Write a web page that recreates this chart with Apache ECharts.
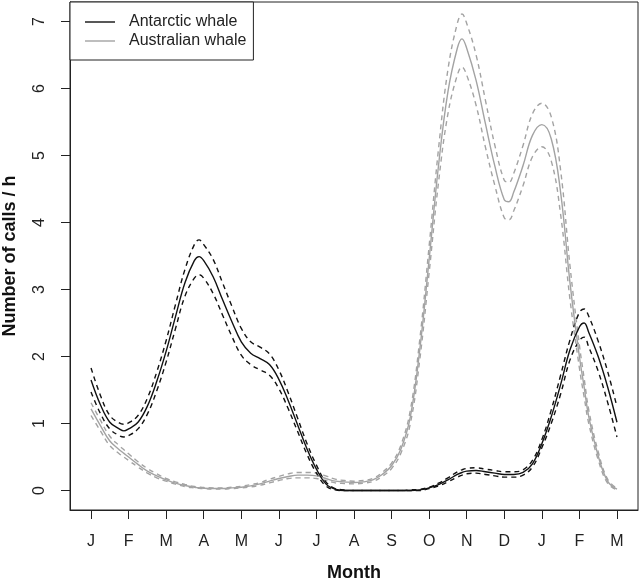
<!DOCTYPE html>
<html>
<head>
<meta charset="utf-8">
<script src="https://cdn.jsdelivr.net/npm/echarts@6/dist/echarts.min.js"></script>
<style>html,body{margin:0;padding:0;background:#fff;}#chart{width:640px;height:580px;}</style>
</head>
<body>
<div id="chart"></div>
<script>
const monthLabels = ['J','F','M','A','M','J','J','A','S','O','N','D','J','F','M'];
const monthTicks = [0,1,2,3,4,5,6,7,8,9,10,11,12,13,14];
const yTicks = [0,1,2,3,4,5,6,7];

const monthPos = [0,0.25,0.5,0.75,0.875,1,1.25,1.5,1.75,2,2.25,2.5,2.75,2.875,3,3.25,3.5,3.75,4,4.25,4.5,4.75,5,5.25,5.5,5.75,6,6.25,6.5,6.75,7,7.25,7.5,7.75,8,8.25,8.5,8.75,9,9.25,9.5,9.75,9.875,10,10.25,10.5,10.75,11,11.125,11.25,11.5,11.75,12,12.25,12.5,12.75,13,13.125,13.25,13.5,13.75,14];

const antarcticFit = [1.65,1.28,1.02,0.92,0.89,0.92,1.02,1.26,1.63,2.08,2.60,3.10,3.43,3.49,3.43,3.19,2.85,2.52,2.22,2.05,1.97,1.88,1.66,1.34,0.98,0.62,0.32,0.10,0.02,0,0,0,0,0,0,0,0,0.01,0.04,0.09,0.16,0.24,0.27,0.29,0.30,0.28,0.26,0.24,0.24,0.24,0.27,0.40,0.70,1.10,1.58,2.10,2.44,2.50,2.36,2.00,1.55,1.02];
const antarcticUpper = [1.83,1.42,1.12,1.01,0.99,1.01,1.12,1.38,1.77,2.24,2.78,3.30,3.67,3.74,3.67,3.45,3.10,2.75,2.42,2.22,2.14,2.04,1.80,1.46,1.08,0.70,0.38,0.13,0.03,0.01,0,0,0,0,0,0,0.01,0.02,0.05,0.11,0.19,0.28,0.31,0.33,0.34,0.32,0.30,0.28,0.28,0.28,0.31,0.45,0.76,1.20,1.72,2.25,2.66,2.71,2.60,2.23,1.78,1.25];
const antarcticLower = [1.47,1.15,0.92,0.82,0.80,0.82,0.92,1.14,1.49,1.92,2.42,2.90,3.17,3.22,3.17,2.94,2.62,2.30,2.02,1.88,1.80,1.72,1.52,1.22,0.88,0.54,0.26,0.07,0.01,0,0,0,0,0,0,0,0,0,0.03,0.07,0.13,0.20,0.23,0.25,0.26,0.24,0.22,0.20,0.20,0.20,0.23,0.35,0.64,1.00,1.44,1.95,2.24,2.29,2.14,1.78,1.32,0.80];

const australianFit = [1.22,0.97,0.74,0.61,0.555,0.50,0.39,0.29,0.22,0.16,0.11,0.075,0.05,0.042,0.035,0.03,0.03,0.04,0.05,0.07,0.10,0.14,0.18,0.21,0.23,0.23,0.22,0.18,0.14,0.13,0.12,0.13,0.16,0.24,0.37,0.62,1.10,2.10,3.45,4.85,5.95,6.60,6.74,6.60,6.12,5.47,4.84,4.34,4.31,4.45,4.85,5.30,5.46,5.25,4.45,3.10,2.00,1.55,1.10,0.52,0.14,0.02];
const australianUpper = [1.31,1.05,0.81,0.67,0.61,0.55,0.43,0.33,0.25,0.18,0.13,0.09,0.06,0.052,0.045,0.04,0.04,0.05,0.065,0.09,0.12,0.17,0.21,0.25,0.27,0.27,0.26,0.22,0.17,0.15,0.14,0.15,0.18,0.27,0.41,0.68,1.20,2.25,3.65,5.10,6.28,6.97,7.11,6.97,6.50,5.82,5.15,4.63,4.60,4.73,5.15,5.62,5.78,5.58,4.78,3.35,2.17,1.68,1.20,0.58,0.17,0.03];
const australianLower = [1.12,0.89,0.67,0.55,0.50,0.45,0.35,0.26,0.19,0.14,0.095,0.06,0.04,0.033,0.028,0.022,0.022,0.03,0.04,0.055,0.08,0.115,0.15,0.18,0.19,0.19,0.18,0.15,0.115,0.105,0.10,0.11,0.135,0.21,0.33,0.56,1.00,1.95,3.25,4.60,5.62,6.20,6.32,6.20,5.75,5.12,4.55,4.07,4.04,4.17,4.55,4.98,5.13,4.92,4.12,2.85,1.83,1.40,1.00,0.46,0.11,0.01];

const pairs = arr => monthPos.map((t, i) => [t, arr[i]]);
const FONT = '"Liberation Sans", Arial, sans-serif';
const BLACK = '#111111';
const GREY = '#a3a3a3';

function line(name, arr, color, dashed) {
  return {
    name: name, type: 'line', data: pairs(arr), symbol: 'none', smooth: 0.4,
    silent: true, z: dashed ? 2 : 3,
    itemStyle: { color: color },
    lineStyle: { color: color, width: 1.4, type: dashed ? [5, 4] : 'solid' }
  };
}

const chart = echarts.init(document.getElementById('chart'), null, { renderer: 'canvas' });
chart.setOption({
  animation: false,
  backgroundColor: '#fff',
  grid: { left: 70, right: 2, top: 2, bottom: 70, outerBoundsMode: 'none', containLabel: false,
    show: true, borderColor: '#222', borderWidth: 1, backgroundColor: 'transparent' },
  legend: {
    left: 70, top: 2, orient: 'vertical',
    data: ['Antarctic whale', 'Australian whale'],
    backgroundColor: '#fff', borderColor: '#222', borderWidth: 1, borderRadius: 0,
    padding: [12, 7, 11, 15], itemGap: 3, itemWidth: 30, itemHeight: 16,
    icon: 'path://M0,0L30,0L30,1.4L0,1.4Z',
    selectedMode: false,
    textStyle: { fontFamily: FONT, fontSize: 16, color: '#222', padding: [0, 0, 0, 9] }
  },
  xAxis: {
    type: 'value', min: -0.56, max: 14.56,
    name: 'Month', nameLocation: 'middle', nameGap: 54,
    nameTextStyle: { fontFamily: FONT, fontSize: 18, fontWeight: 'bold', color: '#111' },
    axisLine: { show: true, onZero: false, lineStyle: { color: '#222', width: 1 } },
    axisTick: { show: true, length: 9, customValues: monthTicks, lineStyle: { color: '#222', width: 1 } },
    axisLabel: { customValues: monthTicks, margin: 24, fontFamily: FONT, fontSize: 16, color: '#222',
      formatter: v => monthLabels[Math.round(v)] },
    splitLine: { show: false }
  },
  yAxis: {
    type: 'value', min: -0.29, max: 7.29,
    name: 'Number of calls / h', nameLocation: 'middle', nameGap: 51,
    nameTextStyle: { fontFamily: FONT, fontSize: 18, fontWeight: 'bold', color: '#111' },
    axisLine: { show: true, onZero: false, lineStyle: { color: '#222', width: 1 } },
    axisTick: { show: true, length: 9, customValues: yTicks, lineStyle: { color: '#222', width: 1 } },
    axisLabel: { customValues: yTicks, rotate: 90, margin: 22, fontFamily: FONT, fontSize: 16, color: '#222',
      formatter: v => String(Math.round(v)) },
    splitLine: { show: false }
  },
  series: [
    line('Australian upper', australianUpper, GREY, true),
    line('Australian lower', australianLower, GREY, true),
    line('Australian whale', australianFit, GREY, false),
    line('Antarctic upper', antarcticUpper, BLACK, true),
    line('Antarctic lower', antarcticLower, BLACK, true),
    line('Antarctic whale', antarcticFit, BLACK, false)
  ]
});
</script>
</body>
</html>
